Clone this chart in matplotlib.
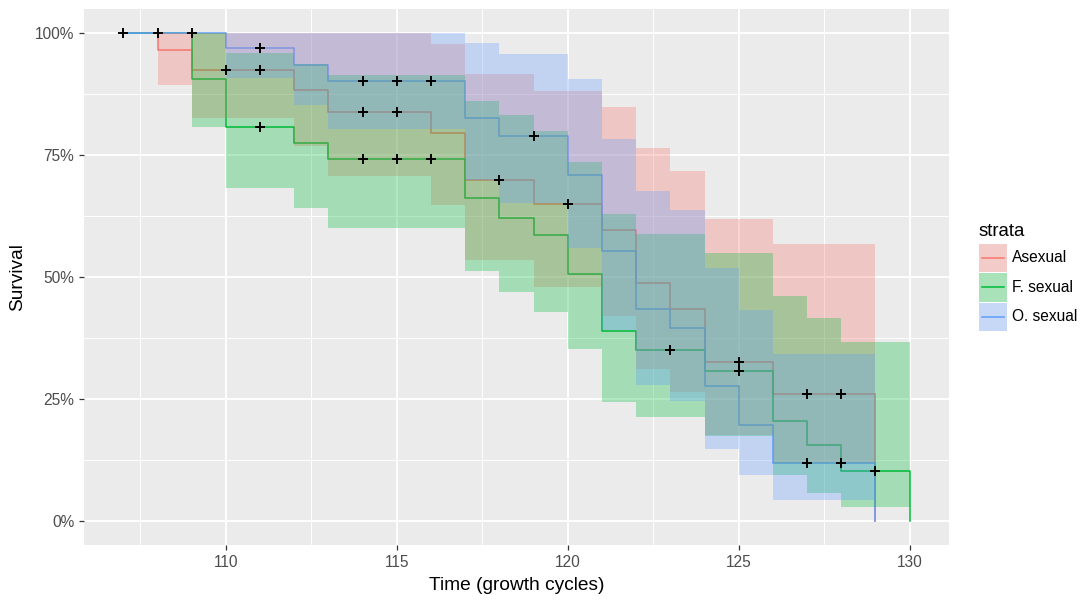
import numpy as np
import matplotlib
matplotlib.use("Agg")
import matplotlib.pyplot as plt
from matplotlib.patches import Rectangle

plt.rcParams['font.family'] = ['Liberation Sans', 'DejaVu Sans']

# ---------------- data ----------------
strata = ["Asexual", "F. sexual", "O. sexual"]
colors = ["#F8766D", "#00BA38", "#619CFF"]

asex_time = [107, 108, 109, 112, 113, 116, 117, 119, 121, 122, 123, 124, 126, 129]
asex_surv = [1.0, 0.965, 0.924, 0.883, 0.839, 0.795, 0.699, 0.649, 0.596, 0.487, 0.434, 0.326, 0.260, 0.0]
asex_lower = [1.0, 0.894, 0.827, 0.769, 0.708, 0.648, 0.535, 0.480, 0.420, 0.311, 0.263, 0.176, 0.118]
asex_upper = [1.0, 1.0, 1.0, 1.0, 1.0, 0.978, 0.916, 0.882, 0.848, 0.764, 0.718, 0.620, 0.568]
asex_cens = [110, 111, 114, 115, 118, 120, 125, 127, 128]

fsex_time = [107, 109, 110, 112, 113, 117, 118, 119, 120, 121, 122, 124, 126, 127, 128, 130]
fsex_surv = [1.0, 0.906, 0.808, 0.774, 0.742, 0.663, 0.622, 0.586, 0.506, 0.390, 0.350, 0.308, 0.204, 0.155, 0.102, 0.0]
fsex_lower = [1.0, 0.807, 0.682, 0.641, 0.600, 0.512, 0.470, 0.428, 0.352, 0.243, 0.212, 0.174, 0.094, 0.056, 0.029]
fsex_upper = [1.0, 1.0, 0.959, 0.937, 0.915, 0.861, 0.833, 0.800, 0.735, 0.629, 0.588, 0.549, 0.462, 0.415, 0.367]
fsex_cens = [108, 111, 114, 115, 116, 123, 125, 129]

osex_time = [107, 110, 112, 113, 117, 118, 120, 121, 122, 123, 124, 125, 126, 129]
osex_surv = [1.0, 0.969, 0.935, 0.902, 0.827, 0.789, 0.709, 0.553, 0.434, 0.395, 0.276, 0.196, 0.118, 0.0]
osex_lower = [1.0, 0.909, 0.853, 0.804, 0.699, 0.652, 0.560, 0.391, 0.278, 0.246, 0.148, 0.094, 0.042]
osex_upper = [1.0, 1.0, 1.0, 1.0, 0.980, 0.957, 0.906, 0.783, 0.677, 0.638, 0.518, 0.432, 0.343]
osex_cens = [107, 109, 111, 114, 115, 116, 119, 127, 128]

x_ticks = [110, 115, 120, 125, 130]
y_ticks = [0, 0.25, 0.5, 0.75, 1.0]
y_ticklabels = ["0%", "25%", "50%", "75%", "100%"]

groups = [
    (asex_time, asex_surv, asex_lower, asex_upper, asex_cens),
    (fsex_time, fsex_surv, fsex_lower, fsex_upper, fsex_cens),
    (osex_time, osex_surv, osex_lower, osex_upper, osex_cens),
]

# ---------------- figure ----------------
W, H = 1086, 601
fig = plt.figure(figsize=(W / 100, H / 100), dpi=100)
px_l, px_r, px_t, px_b = 84, 949, 9, 545
ax = fig.add_axes([px_l / W, (H - px_b) / H, (px_r - px_l) / W, (px_b - px_t) / H])
ax.set_facecolor("#EBEBEB")
for s in ax.spines.values():
    s.set_visible(False)

# step lines
for (t, s, lo, up, cens), c in zip(groups, colors):
    ax.step(t, s, where="post", color=c, lw=1.1, zorder=2)

# confidence bands
for (t, s, lo, up, cens), c in zip(groups, colors):
    lo_ext = list(lo) + [lo[-1]]
    up_ext = list(up) + [up[-1]]
    ax.fill_between(t, lo_ext, up_ext, step="post", color=c, alpha=0.3, lw=0, zorder=3)

# censor marks
for (t, s, lo, up, cens), c in zip(groups, colors):
    ta = np.array(t)
    idx = np.searchsorted(ta, np.array(cens), side="right") - 1
    ys = np.array(s)[idx]
    ax.plot(cens, ys, ls="none", marker="+", color="black", ms=7.5, mew=1.4, zorder=5)

ax.set_xlim(105.85, 131.15)
ax.set_ylim(-0.05, 1.05)
ax.set_xticks(x_ticks)
ax.set_xticks([107.5, 112.5, 117.5, 122.5, 127.5], minor=True)
ax.set_yticks(y_ticks)
ax.set_yticklabels(y_ticklabels)
ax.set_yticks([0.125, 0.375, 0.625, 0.875], minor=True)
ax.grid(which="major", color="white", lw=1.3, zorder=0)
ax.grid(which="minor", color="white", lw=0.7, zorder=0)
ax.set_axisbelow(True)
ax.tick_params(which="major", length=3.6, width=0.9, color="#333333",
               labelcolor="#4D4D4D", labelsize=11.2, pad=3.5)
ax.tick_params(which="minor", length=0)

fig.text(516.5 / W, 1 - 586 / H, "Time (growth cycles)", ha="center", va="center",
         fontsize=13.8, color="black")
fig.text(18 / W, 1 - 277 / H, "Survival", ha="center", va="center", rotation=90,
         fontsize=13.8, color="black")

# ---------------- legend ----------------
lax = fig.add_axes([0, 0, 1, 1], zorder=10)
lax.set_xlim(0, W)
lax.set_ylim(H, 0)
lax.axis("off")
lax.patch.set_alpha(0)
lax.text(979, 232, "strata", ha="left", va="center", fontsize=13.4, color="black")
key_tops = [243.5, 273, 302.5]
key_h = 28.5
for name, c, ktop in zip(strata, colors, key_tops):
    lax.add_patch(Rectangle((979, ktop), 28, key_h, facecolor="#F2F2F2", edgecolor="none"))
    lax.add_patch(Rectangle((979, ktop), 28, key_h, facecolor=c, alpha=0.3, edgecolor="none"))
    yc = ktop + key_h / 2
    lax.plot([982, 1004], [yc, yc], color=c, lw=1.1)
    lax.text(1012, yc, name, ha="left", va="center", fontsize=11.2, color="black")

fig.savefig("out.png", dpi=100)
